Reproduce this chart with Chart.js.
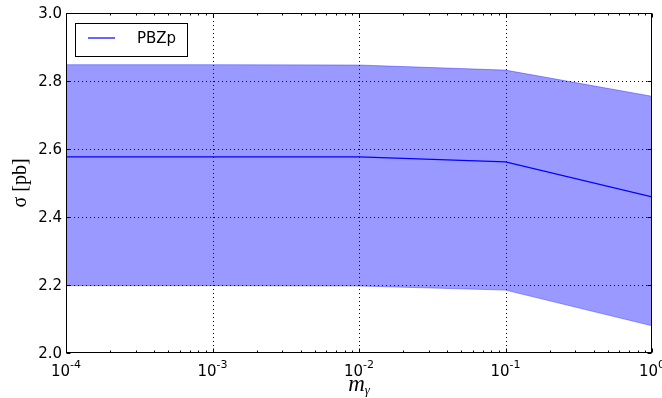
<!DOCTYPE html>
<html>
<head>
<meta charset="utf-8">
<script src="https://cdn.jsdelivr.net/npm/chart.js@4.4.0/dist/chart.umd.min.js"></script>
<style>
  html, body { margin: 0; padding: 0; background: #fff; }
</style>
</head>
<body>
<canvas id="c" width="662" height="398"></canvas>
<script>
// ── Data ────────────────────────────────────────────────────────────────
const mGamma       = [1e-4, 1e-3, 1e-2, 1e-1, 1];
const sigmaCentral = [2.577, 2.577, 2.577, 2.562, 2.459];
const sigmaUpper   = [2.848, 2.848, 2.847, 2.832, 2.755];
const sigmaLower   = [2.198, 2.198, 2.197, 2.185, 2.080];
const xTickExps    = [-4, -3, -2, -1, 0];
const yTicks       = [2.0, 2.2, 2.4, 2.6, 2.8, 3.0];
const seriesLabel  = 'PBZp';

const pts = ys => mGamma.map((x, i) => ({ x, y: ys[i] }));

// ── Grid (drawn above band, below line) ─────────────────────────────────
const gridPlugin = {
  id: 'mplGrid',
  beforeDatasetDraw(chart, args) {
    if (args.index !== 2) return;
    const { ctx, chartArea: a, scales: { x, y } } = chart;
    ctx.save();
    ctx.strokeStyle = '#000';
    ctx.lineWidth = 1;
    ctx.setLineDash([1, 3]);
    xTickExps.forEach(e => {
      const px = Math.round(x.getPixelForValue(Math.pow(10, e))) + 0.5;
      if (px <= a.left + 1 || px >= a.right - 1) return;
      ctx.beginPath(); ctx.moveTo(px, a.top); ctx.lineTo(px, a.bottom); ctx.stroke();
    });
    yTicks.forEach(v => {
      const py = Math.round(y.getPixelForValue(v)) + 0.5;
      if (py <= a.top + 1 || py >= a.bottom - 1) return;
      ctx.beginPath(); ctx.moveTo(a.left, py); ctx.lineTo(a.right, py); ctx.stroke();
    });
    ctx.restore();
  }
};

// ── Frame, ticks, labels, legend ────────────────────────────────────────
const framePlugin = {
  id: 'mplFrame',
  afterDraw(chart) {
    const { ctx, chartArea: a, scales: { x, y } } = chart;
    const L = Math.round(a.left) + 0.5, R = Math.round(a.right) - 0.5;
    const T = Math.round(a.top) + 0.5, B = Math.round(a.bottom) - 0.5;
    ctx.save();
    ctx.strokeStyle = '#000';
    ctx.lineWidth = 1;
    ctx.setLineDash([]);

    // inward ticks
    const tick = (x1, y1, x2, y2) => { ctx.beginPath(); ctx.moveTo(x1, y1); ctx.lineTo(x2, y2); ctx.stroke(); };
    xTickExps.forEach(e => {
      const px = Math.round(x.getPixelForValue(Math.pow(10, e))) + 0.5;
      tick(px, B, px, B - 4); tick(px, T, px, T + 4);
      if (e < 0) {
        for (let k = 2; k <= 9; k++) {
          const mx = Math.round(x.getPixelForValue(k * Math.pow(10, e))) + 0.5;
          tick(mx, B, mx, B - 2); tick(mx, T, mx, T + 2);
        }
      }
    });
    yTicks.forEach(v => {
      const py = Math.round(y.getPixelForValue(v)) + 0.5;
      tick(L, py, L + 4, py); tick(R, py, R - 4, py);
    });

    // spines
    ctx.strokeRect(L, T, R - L, B - T);

    // y tick labels
    ctx.fillStyle = '#000';
    ctx.font = '15px "DejaVu Sans"';
    ctx.textAlign = 'right';
    ctx.textBaseline = 'middle';
    yTicks.forEach(v => {
      ctx.fillText(v.toFixed(1), a.left - 4, y.getPixelForValue(v) + 1);
    });

    // x tick labels 10^e
    ctx.textBaseline = 'alphabetic';
    ctx.textAlign = 'left';
    xTickExps.forEach(e => {
      const px = x.getPixelForValue(Math.pow(10, e));
      ctx.font = '15px "DejaVu Sans"';
      const wb = ctx.measureText('10').width;
      ctx.font = '11px "DejaVu Sans"';
      const sup = String(e);
      const ws = ctx.measureText(sup).width;
      const x0 = px - (wb + ws) / 2;
      ctx.font = '15px "DejaVu Sans"';
      ctx.fillText('10', x0, a.bottom + 23);
      ctx.font = '11px "DejaVu Sans"';
      ctx.fillText(sup, x0 + wb, a.bottom + 15);
    });

    // x axis label m_γ
    ctx.font = 'italic 23px "Liberation Serif"';
    const wm = ctx.measureText('m').width;
    ctx.font = 'italic 13px "Liberation Serif"';
    const wg = ctx.measureText('\u03b3').width;
    const cx = (a.left + a.right) / 2;
    const xm = cx - (wm + wg) / 2;
    ctx.font = 'italic 23px "Liberation Serif"';
    ctx.fillText('m', xm, a.bottom + 38);
    ctx.font = 'italic 13px "Liberation Serif"';
    ctx.fillText('\u03b3', xm + wm, a.bottom + 41);

    // y axis label σ [pb]
    ctx.save();
    ctx.translate(26, (a.top + a.bottom) / 2);
    ctx.rotate(-Math.PI / 2);
    ctx.textAlign = 'center';
    ctx.textBaseline = 'alphabetic';
    ctx.font = '20px "Liberation Serif"';
    ctx.fillText('\u03c3 [pb]', 0, 0);
    ctx.restore();

    // legend
    ctx.fillStyle = '#fff';
    ctx.fillRect(75.5, 23.5, 112, 33);
    ctx.strokeStyle = '#000';
    ctx.strokeRect(75.5, 23.5, 112, 33);
    ctx.strokeStyle = '#0000ff';
    ctx.lineWidth = 1.2;
    tick(88, 38, 115, 38);
    ctx.fillStyle = '#000';
    ctx.font = '15px "DejaVu Sans"';
    ctx.textAlign = 'left';
    ctx.textBaseline = 'middle';
    ctx.fillText(seriesLabel, 137, 39);
    ctx.restore();
  }
};

new Chart(document.getElementById('c'), {
  type: 'line',
  data: {
    datasets: [
      {
        data: pts(sigmaUpper),
        fill: '+1',
        backgroundColor: 'rgba(0,0,255,0.4)',
        borderColor: 'rgba(0,0,255,0.35)',
        borderWidth: 1,
        pointRadius: 0
      },
      {
        data: pts(sigmaLower),
        fill: false,
        borderColor: 'rgba(0,0,255,0.35)',
        borderWidth: 1,
        pointRadius: 0
      },
      {
        label: seriesLabel,
        data: pts(sigmaCentral),
        fill: false,
        borderColor: '#0000ff',
        borderWidth: 1.3,
        pointRadius: 0
      }
    ]
  },
  options: {
    responsive: false,
    animation: false,
    devicePixelRatio: 1,
    layout: { padding: { left: 66, right: 10, top: 13, bottom: 45 } },
    plugins: { legend: { display: false }, tooltip: { enabled: false } },
    elements: { line: { tension: 0 } },
    scales: {
      x: { type: 'logarithmic', min: 1e-4, max: 1, display: false },
      y: { type: 'linear', min: 2.0, max: 3.0, display: false }
    }
  },
  plugins: [gridPlugin, framePlugin]
});
</script>
</body>
</html>
